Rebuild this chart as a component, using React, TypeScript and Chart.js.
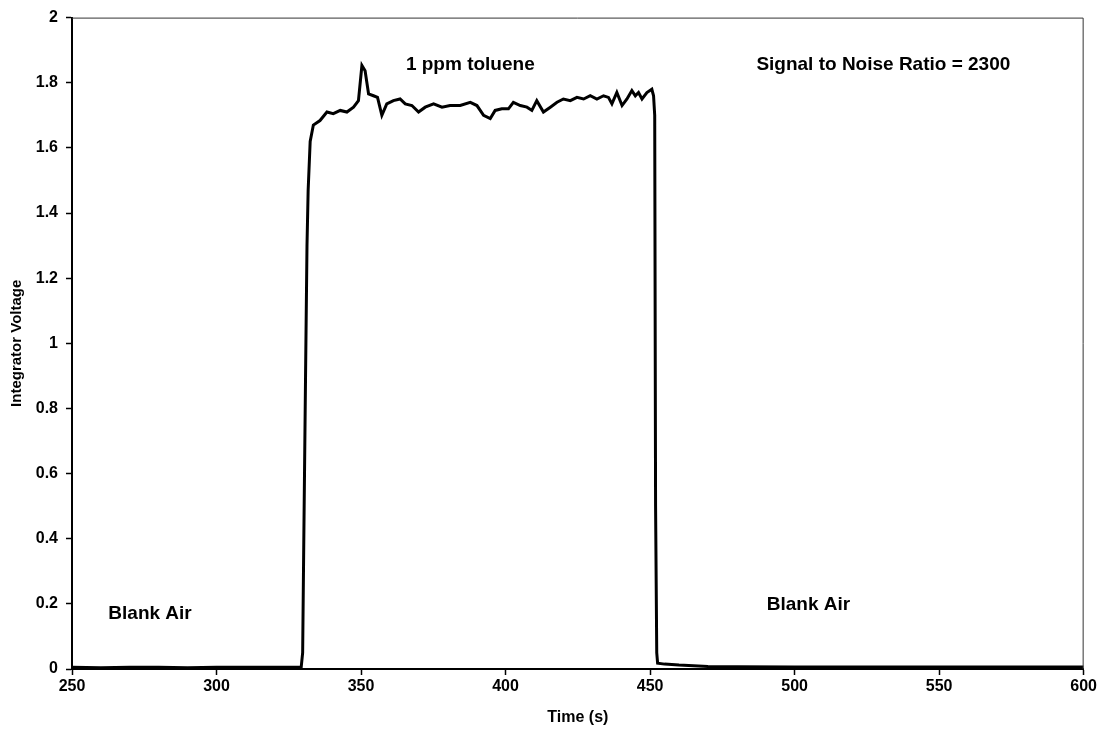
import React, { useEffect, useRef } from "react";
import { Chart, registerables } from "chart.js";

Chart.register(...registerables);

// Time (s) and integrator voltage
const timeValues: number[] = [
  250, 260, 270, 280, 290, 300, 310, 320, 329.3, 329.8, 330.2, 330.8, 331.3, 331.7, 332.4, 333.5,
  335.8, 338.2, 340.4, 342.8, 345.1, 347.4, 349.1, 350.3, 351.4, 352.6, 354.3, 355.7, 357.2,
  358.9, 361.2, 363.5, 365.3, 367.6, 369.9, 372.2, 375.1, 378, 380.8, 384.3, 387.8, 390.1,
  392.4, 394.7, 396.4, 398.7, 401, 402.7, 405.1, 407.4, 409.1, 410.8, 413.1, 415.5, 417.8,
  420, 422.4, 424.7, 427, 429.3, 431.6, 433.9, 435.6, 436.8, 438.5, 440.3, 442, 443.7, 444.9,
  446, 447.2, 448.9, 450.6, 451.2, 451.6, 451.9, 452.3, 452.6, 455, 460, 470, 480, 500, 520,
  540, 560, 580, 600,
];
const voltageValues: number[] = [
  0.005, 0.004, 0.005, 0.005, 0.004, 0.005, 0.005, 0.005, 0.006, 0.05, 0.4, 0.9, 1.3, 1.47, 1.62, 1.67,
  1.684, 1.71, 1.705, 1.715, 1.71, 1.725, 1.745, 1.853, 1.837, 1.766, 1.76, 1.755, 1.7,
  1.735, 1.745, 1.75, 1.735, 1.73, 1.71, 1.725, 1.735, 1.725, 1.73, 1.73, 1.74, 1.73,
  1.7, 1.69, 1.715, 1.72, 1.72, 1.74, 1.73, 1.725, 1.715, 1.745, 1.71, 1.725, 1.74,
  1.75, 1.745, 1.755, 1.75, 1.76, 1.75, 1.76, 1.755, 1.735, 1.77, 1.73, 1.75, 1.776, 1.76,
  1.77, 1.75, 1.77, 1.78, 1.76, 1.7, 0.5, 0.05, 0.018, 0.015, 0.012, 0.008, 0.007, 0.006, 0.006,
  0.006, 0.006, 0.006, 0.006,
];

const xTicks: number[] = [250, 300, 350, 400, 450, 500, 550, 600];
const yTicks: number[] = [0, 0.2, 0.4, 0.6, 0.8, 1, 1.2, 1.4, 1.6, 1.8, 2];

const annotationTexts: string[] = ["1 ppm toluene", "Signal to Noise Ratio = 2300", "Blank Air", "Blank Air"];
const annotationX: number[] = [387.8, 530.7, 277, 504.8];
const annotationY: number[] = [1.856, 1.856, 0.17, 0.198];

const FONT = "'Liberation Sans', Arial, sans-serif";

export default function App() {
  const canvasRef = useRef<HTMLCanvasElement | null>(null);

  useEffect(() => {
    document.body.style.margin = "0";
    const canvas = canvasRef.current;
    if (!canvas) return;

    const annotationPlugin = {
      id: "annots",
      afterDraw(chart: any) {
        const { ctx, chartArea, scales } = chart;
        ctx.save();
        ctx.strokeStyle = "#333";
        ctx.lineWidth = 1;
        ctx.beginPath();
        ctx.moveTo(chartArea.left, chartArea.top + 0.5);
        ctx.lineTo(chartArea.right - 0.5, chartArea.top + 0.5);
        ctx.lineTo(chartArea.right - 0.5, chartArea.bottom);
        ctx.stroke();
        ctx.fillStyle = "#000";
        ctx.font = `bold 19px ${FONT}`;
        ctx.textAlign = "center";
        ctx.textBaseline = "middle";
        annotationTexts.forEach((t, i) => {
          ctx.fillText(t, scales.x.getPixelForValue(annotationX[i]), scales.y.getPixelForValue(annotationY[i]));
        });
        ctx.restore();
      },
    };

    const chart = new Chart(canvas, {
      type: "line",
      data: {
        datasets: [
          {
            data: timeValues.map((x, i) => ({ x, y: voltageValues[i] })),
            borderColor: "#000",
            borderWidth: 3,
            pointRadius: 0,
            tension: 0,
            fill: false,
          },
        ],
      },
      options: {
        animation: false,
        responsive: false,
        maintainAspectRatio: false,
        layout: { padding: { left: 0, right: 15, top: 17, bottom: 0 } },
        plugins: { legend: { display: false }, tooltip: { enabled: false } },
        scales: {
          x: {
            type: "linear",
            min: 250,
            max: 600,
            afterBuildTicks(scale: any) {
              scale.ticks = xTicks.map((v) => ({ value: v }));
            },
            afterFit(scale: any) {
              scale.height = 71;
            },
            ticks: {
              color: "#000",
              font: { family: FONT, size: 16, weight: "bold" },
              padding: 2,
              maxRotation: 0,
              callback: (v: any) => String(v),
            },
            grid: { drawOnChartArea: false, color: "#000", tickLength: 6, tickWidth: 1.5 },
            border: { color: "#000", width: 2 },
            title: {
              display: true,
              text: "Time (s)",
              color: "#000",
              font: { family: FONT, size: 16, weight: "bold" },
              padding: { top: 0, bottom: 13 },
            },
          },
          y: {
            type: "linear",
            min: 0,
            max: 2,
            afterBuildTicks(scale: any) {
              scale.ticks = yTicks.map((v) => ({ value: v }));
            },
            afterFit(scale: any) {
              scale.width = 72;
            },
            ticks: {
              color: "#000",
              font: { family: FONT, size: 16, weight: "bold" },
              padding: 8,
              callback: (v: any) => String(Number(Number(v).toFixed(1))),
            },
            grid: { drawOnChartArea: false, color: "#000", tickLength: 6, tickWidth: 1.5 },
            border: { color: "#000", width: 2 },
            title: {
              display: true,
              text: "Integrator Voltage",
              color: "#000",
              font: { family: FONT, size: 15, weight: "bold" },
              padding: { top: 8, bottom: 0 },
            },
          },
        },
      },
      plugins: [annotationPlugin],
    } as any);

    return () => chart.destroy();
  }, []);

  return (
    <div style={{ width: 1099, height: 740, background: "#fff" }}>
      <canvas ref={canvasRef} width={1099} height={740} style={{ display: "block" }} />
    </div>
  );
}
